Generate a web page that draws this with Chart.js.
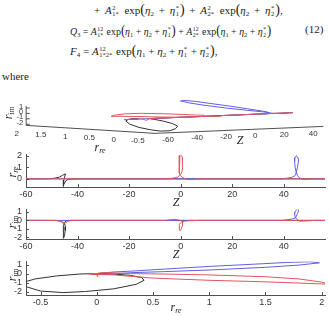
<!DOCTYPE html>
<html><head><meta charset="utf-8">
<script src="https://cdn.jsdelivr.net/npm/chart.js@4.4.1/dist/chart.umd.min.js"></script>
<style>
html,body{margin:0;padding:0;background:#fff;width:330px;height:316px;overflow:hidden;position:relative}
canvas{position:absolute;left:0}
.t{position:absolute;white-space:nowrap;font-family:"Liberation Serif","DejaVu Serif",serif;color:#222}
.eq{font-size:11px;line-height:14px;transform-origin:0 50%}
.eq sub{font-size:7px;vertical-align:-2px;line-height:0}
.ss{display:inline-flex;flex-direction:column;vertical-align:middle;font-size:6.5px;line-height:6.5px;margin-left:0.5px;margin-right:1px}
.p{font-size:14px;line-height:0}
.c{transform:translate(-50%,-50%)}
.r{transform:translate(-50%,-50%) rotate(-90deg)}
.al{font-size:12px;font-style:italic}
.al sub{font-size:8px;vertical-align:-2px;line-height:0}
</style></head>
<body>
<div class="t eq" style="left:94px;top:3px;word-spacing:2px">+ <i>A</i><span class="ss"><span>2</span><span>1*</span></span> exp<span class="p">(</span><i>η</i><sub>2</sub> + <i>η</i><span class="ss"><span>*</span><span>1</span></span><span class="p">)</span> + <i>A</i><span class="ss"><span>2</span><span>2*</span></span> exp<span class="p">(</span><i>η</i><sub>2</sub> + <i>η</i><span class="ss"><span>*</span><span>2</span></span><span class="p">)</span>,</div>
<div class="t eq" style="left:70px;top:24px;transform:scaleX(0.9)"><i>Q</i><sub>3</sub> = <i>A</i><span class="ss"><span>12</span><span>1*</span></span> exp<span class="p">(</span><i>η</i><sub>1</sub> + <i>η</i><sub>2</sub> + <i>η</i><span class="ss"><span>*</span><span>1</span></span><span class="p">)</span> + <i>A</i><span class="ss"><span>12</span><span>2*</span></span> exp<span class="p">(</span><i>η</i><sub>1</sub> + <i>η</i><sub>2</sub> + <i>η</i><span class="ss"><span>*</span><span>2</span></span><span class="p">)</span></div>
<div class="t eq" style="left:70px;top:44px"><i>F</i><sub>4</sub> = <i>A</i><span class="ss"><span>12</span><span>1*2*</span></span> exp<span class="p">(</span><i>η</i><sub>1</sub> + <i>η</i><sub>2</sub> + <i>η</i><span class="ss"><span>*</span><span>1</span></span> + <i>η</i><span class="ss"><span>*</span><span>2</span></span><span class="p">)</span>,</div>
<div class="t eq" style="left:305px;top:22px">(12)</div>
<div class="t eq" style="left:2px;top:69px">where</div>

<canvas id="c1" width="330" height="64" style="top:86px"></canvas>
<canvas id="c2" width="330" height="55" style="top:145px"></canvas>
<canvas id="c3" width="330" height="52" style="top:200px"></canvas>
<canvas id="c4" width="330" height="56" style="top:252px"></canvas>

<div class="t al r" style="left:8px;top:113px">r<sub>im</sub></div>
<div class="t al c" style="left:100px;top:147px">r<sub>re</sub></div>
<div class="t al c" style="left:240px;top:140px">Z</div>
<div class="t al r" style="left:12px;top:172px">r<sub>re</sub></div>
<div class="t al c" style="left:176px;top:202px">Z</div>
<div class="t al r" style="left:12px;top:222px">r<sub>im</sub></div>
<div class="t al c" style="left:176px;top:254px">Z</div>
<div class="t al r" style="left:12px;top:275px">r<sub>im</sub></div>
<div class="t al c" style="left:176px;top:307px">r<sub>re</sub></div>

<script>
// ---------- data ----------
const blackZ  = [-60, -52, -49, -47, -45.8, -45.0, -44.7, -44.8, -45.0, -45.3, -45.5, -45.6, -45.6, -45.5, -45.3, -45.0, -44.5, -43.5, -42, 56];
const blackRe = [0, 0, 0.05, 0.15, 0.3, 0.4, 0.42, 0.35, 0.15, -0.1, -0.3, -0.5, -0.62, -0.66, -0.55, -0.35, -0.15, -0.03, 0, 0];
const blackIm = [0, 0, -0.01, -0.05, -0.2, -0.45, -0.75, -1.2, -1.7, -2.0, -2.12, -1.95, -1.5, -1.0, -0.6, -0.25, -0.05, 0, 0, 0];

const redZ  = [-60, -48.5, -46.5, -45, -43.8, -42.5, -6, -4, -2.5, -1.2, -0.3, 0.5, 0.8, 0.8, 0.6, 0.3, 0.0, -0.3, -0.6, -0.6, -0.4, -0.1, 0.5, 1.5, 3, 5, 7, 56];
const redRe = [0, 0, 0, 0.01, 0, 0, 0, 0.03, 0.08, 0.15, 0.3, 0.6, 1.0, 1.5, 1.8, 2.0, 2.07, 2.0, 1.5, 1.0, 0.5, 0.3, 0.15, 0.02, -0.07, -0.05, 0, 0];
const redIm = [0, 0, -0.12, -0.35, -0.12, 0, 0, 0.08, 0.12, 0.08, 0, -0.05, -0.15, -0.35, -0.6, -0.95, -1.2, -1.15, -0.92, -0.75, -0.5, -0.3, -0.15, -0.1, -0.05, -0.02, 0, 0];

const blueZ  = [-60, -44, -42.5, -40.5, -39, 38, 40, 42, 43.4, 44.5, 44.9, 45.3, 45.6, 45.7, 45.3, 44.8, 44.3, 44.2, 44.4, 44.8, 45.3, 46, 47.5, 49, 52, 56];
const blueRe = [0, 0, -0.03, -0.03, 0, 0, 0.02, 0.08, 0.15, 0.3, 0.6, 1.0, 1.4, 1.7, 1.9, 1.98, 1.8, 1.5, 1.0, 0.6, 0.3, 0.1, -0.05, -0.03, 0, 0];
const blueIm = [0, 0, 0, 0, 0, 0, 0.02, 0.1, 0.18, 0.27, 0.5, 0.8, 1.05, 1.25, 1.32, 1.2, 0.95, 0.7, 0.4, 0.22, 0.1, -0.08, -0.07, -0.05, 0, 0];

const zTicks   = [-60, -40, -20, 0, 20, 40];
const reTicks  = [0, 1, 2];
const imTicks  = [-2, -1, 0, 1];
const reTicks4 = [-0.5, 0, 0.5, 1, 1.5, 2];
const re3Ticks = [2, 1.5, 1, 0.5, 0, -0.5];
const z3Ticks  = [-60, -40, -20, 0, 20, 40];
const im3Ticks = [1, 0, -1, -2];

// ---------- styling ----------
const SANS = "'Liberation Sans','DejaVu Sans',sans-serif";
const AXIS = '#505050';
const RED = 'rgb(228,84,94)', BLUE = 'rgb(96,96,226)', BLACK = 'rgb(50,50,50)';

const pts = (a, b) => a.map((v, i) => ({x: v, y: b[i]}));
const line = (data, c) => ({data, borderColor: c, borderWidth: 1, showLine: true, pointRadius: 0, fill: false, tension: 0});

const inTicks = {
  id: 'inTicks',
  afterDraw(chart) {
    const {ctx, chartArea: a, scales} = chart;
    ctx.save(); ctx.strokeStyle = AXIS; ctx.lineWidth = 1;
    scales.x.ticks.forEach(t => { const p = Math.round(scales.x.getPixelForValue(t.value)) + 0.5;
      ctx.beginPath(); ctx.moveTo(p, a.bottom); ctx.lineTo(p, a.bottom - 3); ctx.stroke(); });
    scales.y.ticks.forEach(t => { const p = Math.round(scales.y.getPixelForValue(t.value)) + 0.5;
      ctx.beginPath(); ctx.moveTo(a.left, p); ctx.lineTo(a.left + 3, p); ctx.stroke(); });
    ctx.restore();
  }
};

function axis(min, max, ticks, isX) {
  return {
    type: 'linear', min, max,
    afterBuildTicks: s => { s.ticks = ticks.map(v => ({value: v})); },
    afterFit: s => { if (isX) s.height = 13; else s.width = 26; },
    grid: {display: true, drawOnChartArea: false, drawTicks: false},
    border: {display: true, color: AXIS, width: 1},
    ticks: {color: '#333', font: {family: SANS, size: 9}, padding: isX ? 2 : 4, maxRotation: 0, autoSkip: false,
            callback: v => String(v)}
  };
}

function plot2d(id, sets, xr, yr, xt, yt, padTop) {
  new Chart(document.getElementById(id), {
    type: 'scatter',
    data: {datasets: sets},
    options: {
      responsive: false, animation: false, events: [],
      layout: {padding: {top: padTop, right: 5, left: 0, bottom: 0}},
      plugins: {legend: {display: false}, tooltip: {enabled: false}},
      scales: {x: axis(xr[0], xr[1], xt, true), y: axis(yr[0], yr[1], yt, false)}
    },
    plugins: [inTicks]
  });
}

plot2d('c2', [line(pts(redZ, redRe), RED), line(pts(blueZ, blueRe), BLUE), line(pts(blackZ, blackRe), BLACK)],
  [-60, 56], [-0.7, 2.1], zTicks, reTicks, 7);
plot2d('c3', [line(pts(redZ, redIm), RED), line(pts(blueZ, blueIm), BLUE), line(pts(blackZ, blackIm), BLACK)],
  [-60, 56], [-2.2, 1.3], zTicks, imTicks, 5.5);
plot2d('c4', [line(pts(redRe, redIm), RED), line(pts(blueRe, blueIm), BLUE), line(pts(blackRe, blackIm), BLACK)],
  [-0.63, 2.03], [-2.39, 1.36], reTicks4, imTicks, 5.7);

// ---------- 3D view (orthographic projection of (r_re, Z, r_im)) ----------
const reR = [-0.63, 2.03], zR = [-60, 56], imR = [-2.2, 1.4];
const P = (re, z, im) => ({x: 211.6 - 48.5 * re + 1.45 * z, y: 116 - 3 * re - 0.06 * z - 5.4 * im});
const proj = (zs, res, ims) => zs.map((z, i) => P(res[i], z, ims[i]));

const axes3 = [
  [P(reR[1], zR[0], imR[0]), P(reR[1], zR[0], imR[1])],
  [P(reR[1], zR[0], imR[0]), P(reR[0], zR[0], imR[0])],
  [P(reR[0], zR[0], imR[0]), P(reR[0], zR[1], imR[0])]
];

const labels3 = {
  id: 'labels3',
  afterDraw(chart) {
    const {ctx, scales: {x, y}} = chart;
    const px = p => [x.getPixelForValue(p.x), y.getPixelForValue(p.y)];
    ctx.save();
    ctx.strokeStyle = AXIS; ctx.lineWidth = 1;
    im3Ticks.forEach(v => { const [a, b] = px(P(reR[1], zR[0], v)); const [c, d] = px(P(reR[1], zR[0] + 2.5, v));
      ctx.beginPath(); ctx.moveTo(a, b); ctx.lineTo(c, d); ctx.stroke(); });
    ctx.fillStyle = '#333'; ctx.textBaseline = 'middle';
    ctx.font = '7.5px ' + SANS; ctx.textAlign = 'right';
    im3Ticks.forEach(v => { const [a, b] = px(P(reR[1], zR[0], v)); ctx.fillText(String(v), a - 3, b - 1.5); });
    ctx.font = '8px ' + SANS; ctx.textAlign = 'center';
    re3Ticks.forEach(v => { const [a, b] = px(P(v, zR[0], imR[0])); ctx.fillText(String(v), a - 11, b + 8); });
    z3Ticks.forEach(v => { const [a, b] = px(P(reR[0], v, imR[0])); ctx.fillText(String(v), a + 13, b + 6); });
    ctx.restore();
  }
};

new Chart(document.getElementById('c1'), {
  type: 'scatter',
  data: {datasets: [
    ...axes3.map(s => line(s, AXIS)),
    line(proj(redZ, redRe, redIm), RED),
    line(proj(blueZ, blueRe, blueIm), BLUE),
    line(proj(blackZ, blackRe, blackIm), BLACK)
  ]},
  options: {
    responsive: false, animation: false, events: [],
    layout: {padding: 0},
    plugins: {legend: {display: false}, tooltip: {enabled: false}},
    scales: {
      x: {type: 'linear', display: false, min: 0, max: 330},
      y: {type: 'linear', display: false, min: 86, max: 150, reverse: true}
    }
  },
  plugins: [labels3]
});
</script>
</body></html>
